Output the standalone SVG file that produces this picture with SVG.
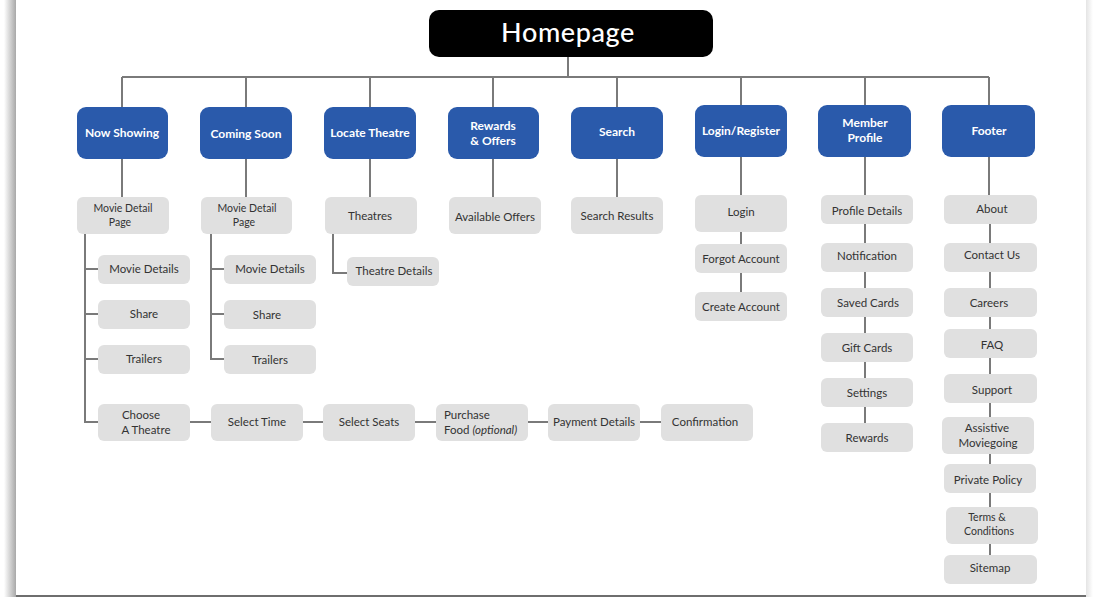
<svg xmlns="http://www.w3.org/2000/svg" width="1093" height="597" viewBox="0 0 1093 597">
<defs>
<linearGradient id="shL" x1="0" y1="0" x2="1" y2="0">
<stop offset="0" stop-color="#ffffff"/>
<stop offset="1" stop-color="#a8a8a8"/>
</linearGradient>
<linearGradient id="shR" x1="0" y1="0" x2="1" y2="0">
<stop offset="0" stop-color="#e4e4e4"/>
<stop offset="1" stop-color="#ffffff"/>
</linearGradient>
<style>
.blue{fill:#2a5aab}
.gray{fill:#e0e0e0}
.bt{font-family:Lato,"Noto Sans",sans-serif;font-weight:bold;font-size:12px;fill:#ffffff;text-anchor:middle}
.gt{font-family:Lato,"Noto Sans",sans-serif;font-size:11.5px;fill:#333333;text-anchor:middle}
.gs{font-family:Lato,"Noto Sans",sans-serif;font-size:11.5px;fill:#333333;text-anchor:start}
.st{font-family:Lato,"Noto Sans",sans-serif;font-size:10.5px;fill:#333333;text-anchor:middle}
.ln{fill:none;stroke:#7a7a7a;stroke-width:2}
</style>
</defs>
<rect x="0" y="0" width="1093" height="597" fill="#ffffff"/>
<rect x="4" y="0" width="12" height="597" fill="url(#shL)"/>
<rect x="1086" y="0" width="7" height="597" fill="url(#shR)"/>
<line x1="16" y1="596" x2="1086" y2="596" stroke="#6e6e6e" stroke-width="2"/>

<g id="connectors" class="ln">
<path d="M568 57V77M122 77H989M122 77V107M246 77V107M370 77V107M493 77V107M617 77V107M741 77V105M865 77V105M989 77V105"/>
<path d="M122 159V197M246 159V197M370 159V197M493 159V197M617 159V197M741 157V195M865 157V195M989 157V195"/>
<path d="M85 234V422H98M85 269H98M85 314H98M85 359H98"/>
<path d="M211 234V359H224M211 269H224M211 314H224"/>
<path d="M333 234V273H347"/>
<path d="M190 422H211M303 422H323M415 422H436M528 422H548M640 422H661"/>
<path d="M741 232V244M741 273V292"/>
<path d="M865 224V243M865 272V288M865 317V333M865 362V378M865 407V423"/>
<path d="M990 224V243M990 272V288M990 317V329M990 358V374M990 403V417M990 454V464M990 493V507M990 544V555"/>
</g>

<g id="homepage"><rect x="429" y="10" width="284" height="47" rx="10" fill="#000000"/><text x="568" y="42" font-family="Lato,'Noto Sans',sans-serif" font-size="27" font-weight="500" letter-spacing="0.6" fill="#ffffff" text-anchor="middle">Homepage</text></g>

<g id="now-showing"><rect class="blue" x="77" y="107" width="91" height="52" rx="9"/><text class="bt" x="122" y="137">Now Showing</text></g>
<g id="coming-soon"><rect class="blue" x="200" y="107" width="92" height="52" rx="9"/><text class="bt" x="246" y="138">Coming Soon</text></g>
<g id="locate-theatre"><rect class="blue" x="324" y="107" width="92" height="52" rx="9"/><text class="bt" x="370" y="137">Locate Theatre</text></g>
<g id="rewards-offers"><rect class="blue" x="448" y="107" width="91" height="52" rx="9"/><text class="bt" x="493" y="130">Rewards</text><text class="bt" x="493" y="145">&amp; Offers</text></g>
<g id="search"><rect class="blue" x="571" y="107" width="92" height="52" rx="9"/><text class="bt" x="617" y="136">Search</text></g>
<g id="login-register"><rect class="blue" x="695" y="105" width="92" height="52" rx="9"/><text class="bt" x="741" y="135">Login/Register</text></g>
<g id="member-profile"><rect class="blue" x="818" y="105" width="93" height="52" rx="9"/><text class="bt" x="865" y="127">Member</text><text class="bt" x="865" y="142">Profile</text></g>
<g id="footer"><rect class="blue" x="942" y="105" width="93" height="52" rx="9"/><text class="bt" x="989" y="135">Footer</text></g>

<g id="movie-detail-page-1"><rect class="gray" x="77" y="197" width="92" height="37" rx="6"/><text class="st" x="123" y="212">Movie Detail</text><text class="st" x="120" y="226">Page</text></g>
<g id="movie-details-1"><rect class="gray" x="98" y="255" width="92" height="29" rx="6"/><text class="gt" x="144" y="273">Movie Details</text></g>
<g id="share-1"><rect class="gray" x="98" y="300" width="92" height="29" rx="6"/><text class="gt" x="144" y="318">Share</text></g>
<g id="trailers-1"><rect class="gray" x="98" y="345" width="92" height="29" rx="6"/><text class="gt" x="144" y="363">Trailers</text></g>
<g id="choose-theatre"><rect class="gray" x="98" y="404" width="92" height="37" rx="6"/><text class="gt" x="141" y="419">Choose</text><text class="gt" x="146" y="434">A Theatre</text></g>
<g id="select-time"><rect class="gray" x="211" y="404" width="92" height="37" rx="6"/><text class="gt" x="257" y="426">Select Time</text></g>
<g id="select-seats"><rect class="gray" x="323" y="404" width="92" height="37" rx="6"/><text class="gt" x="369" y="426">Select Seats</text></g>
<g id="purchase-food"><rect class="gray" x="436" y="404" width="92" height="37" rx="6"/><text class="gs" x="444" y="419">Purchase</text><text class="gs" x="444" y="434">Food <tspan font-style="italic">(optional)</tspan></text></g>
<g id="payment-details"><rect class="gray" x="548" y="404" width="92" height="37" rx="6"/><text class="gt" x="594" y="426">Payment Details</text></g>
<g id="confirmation"><rect class="gray" x="661" y="404" width="92" height="37" rx="6"/><text class="gt" x="705" y="426">Confirmation</text></g>

<g id="movie-detail-page-2"><rect class="gray" x="201" y="197" width="91" height="37" rx="6"/><text class="st" x="247" y="212">Movie Detail</text><text class="st" x="244" y="226">Page</text></g>
<g id="movie-details-2"><rect class="gray" x="224" y="255" width="92" height="29" rx="6"/><text class="gt" x="270" y="273">Movie Details</text></g>
<g id="share-2"><rect class="gray" x="224" y="300" width="92" height="29" rx="6"/><text class="gt" x="267" y="319">Share</text></g>
<g id="trailers-2"><rect class="gray" x="224" y="345" width="92" height="29" rx="6"/><text class="gt" x="270" y="364">Trailers</text></g>

<g id="theatres"><rect class="gray" x="325" y="197" width="92" height="37" rx="6"/><text class="gt" x="370" y="220">Theatres</text></g>
<g id="theatre-details"><rect class="gray" x="347" y="257" width="92" height="29" rx="6"/><text class="gt" x="394" y="275">Theatre Details</text></g>

<g id="available-offers"><rect class="gray" x="449" y="197" width="92" height="37" rx="6"/><text class="gt" x="495" y="221">Available Offers</text></g>
<g id="search-results"><rect class="gray" x="571" y="197" width="92" height="37" rx="6"/><text class="gt" x="617" y="220">Search Results</text></g>

<g id="login"><rect class="gray" x="695" y="195" width="92" height="37" rx="6"/><text class="gt" x="741" y="216">Login</text></g>
<g id="forgot-account"><rect class="gray" x="695" y="244" width="92" height="29" rx="6"/><text class="gt" x="741" y="263">Forgot Account</text></g>
<g id="create-account"><rect class="gray" x="695" y="292" width="92" height="29" rx="6"/><text class="gt" x="741" y="311">Create Account</text></g>

<g id="profile-details"><rect class="gray" x="821" y="195" width="92" height="29" rx="6"/><text class="gt" x="867" y="215">Profile Details</text></g>
<g id="notification"><rect class="gray" x="821" y="243" width="92" height="29" rx="6"/><text class="gt" x="867" y="260">Notification</text></g>
<g id="saved-cards"><rect class="gray" x="821" y="288" width="92" height="29" rx="6"/><text class="gt" x="868" y="307">Saved Cards</text></g>
<g id="gift-cards"><rect class="gray" x="821" y="333" width="92" height="29" rx="6"/><text class="gt" x="867" y="352">Gift Cards</text></g>
<g id="settings"><rect class="gray" x="821" y="378" width="92" height="29" rx="6"/><text class="gt" x="867" y="397">Settings</text></g>
<g id="rewards"><rect class="gray" x="821" y="423" width="92" height="29" rx="6"/><text class="gt" x="867" y="442">Rewards</text></g>

<g id="about"><rect class="gray" x="944" y="195" width="93" height="29" rx="6"/><text class="gt" x="992" y="213">About</text></g>
<g id="contact-us"><rect class="gray" x="944" y="243" width="93" height="29" rx="6"/><text class="gt" x="992" y="259">Contact Us</text></g>
<g id="careers"><rect class="gray" x="944" y="288" width="93" height="29" rx="6"/><text class="gt" x="989" y="307">Careers</text></g>
<g id="faq"><rect class="gray" x="944" y="329" width="93" height="29" rx="6"/><text class="gt" x="992" y="349">FAQ</text></g>
<g id="support"><rect class="gray" x="944" y="374" width="93" height="29" rx="6"/><text class="gt" x="992" y="394">Support</text></g>
<g id="assistive-moviegoing"><rect class="gray" x="942" y="417" width="92" height="37" rx="6"/><text class="gt" x="987" y="432">Assistive</text><text class="gt" x="988" y="447">Moviegoing</text></g>
<g id="private-policy"><rect class="gray" x="944" y="464" width="92" height="29" rx="6"/><text class="gt" x="988" y="484">Private Policy</text></g>
<g id="terms-conditions"><rect class="gray" x="946" y="507" width="92" height="37" rx="6"/><text class="st" x="987" y="521">Terms &amp;</text><text class="st" x="989" y="535">Conditions</text></g>
<g id="sitemap"><rect class="gray" x="944" y="555" width="93" height="29" rx="6"/><text class="gt" x="990" y="572">Sitemap</text></g>
</svg>
